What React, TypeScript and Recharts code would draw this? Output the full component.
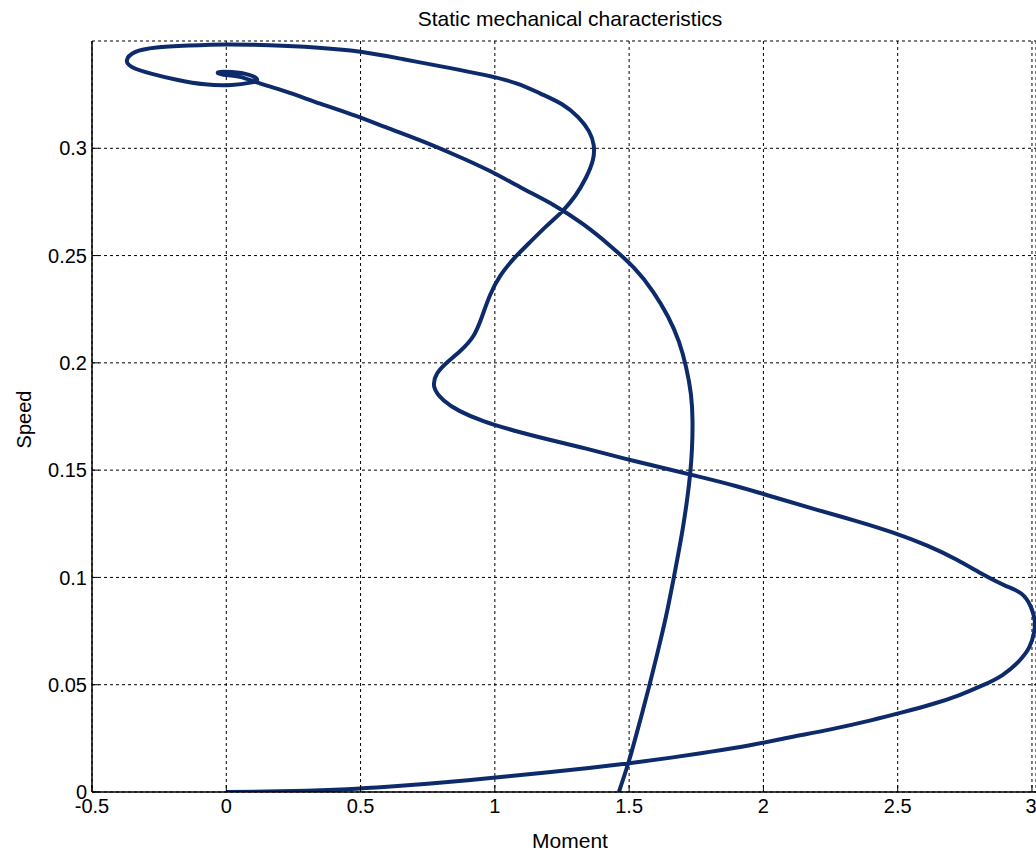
import { CartesianGrid, Label, Line, LineChart, XAxis, YAxis } from "recharts";

// Trayectoria momento / velocidad (en orden de recorrido)
const MOMENT = [
  0, 0.15, 0.3, 0.45, 0.6, 0.75, 0.9, 1.05, 1.2, 1.35, 1.5, 1.65, 1.8, 1.95, 2.1, 2.25, 2.4, 2.52,
  2.63, 2.73, 2.82, 2.89, 2.95, 2.99, 3.008, 3.01, 2.995, 2.96, 2.9, 2.82, 2.72, 2.61, 2.48, 2.34, 2.2,
  2.05, 1.9, 1.76, 1.62, 1.48, 1.34, 1.2, 1.07, 0.96, 0.87, 0.81, 0.775, 0.785, 0.825, 0.875, 0.92,
  0.952, 0.982, 1.02, 1.07, 1.125, 1.19, 1.25, 1.3, 1.34, 1.365, 1.368, 1.35, 1.31, 1.25, 1.17, 1.08,
  0.96, 0.82, 0.66, 0.5, 0.33, 0.16, 0.0, -0.14, -0.26, -0.34, -0.37, -0.35, -0.28, -0.18, -0.08,
  0.02, 0.09, 0.115, 0.085, 0.02, -0.03, -0.01, 0.05, 0.12, 0.22, 0.35, 0.48, 0.6, 0.72, 0.85, 0.98,
  1.1, 1.22, 1.33, 1.43, 1.52, 1.59, 1.645, 1.685, 1.712, 1.73, 1.736, 1.734, 1.727, 1.715, 1.7, 1.683,
  1.665, 1.646, 1.625, 1.601, 1.576, 1.55, 1.523, 1.497, 1.462,
];

const SPEED = [
  0, 0.0002, 0.0006, 0.0013, 0.0024, 0.0038, 0.0055, 0.0073, 0.0092, 0.0112, 0.0134, 0.0159, 0.0187,
  0.0218, 0.0255, 0.0292, 0.0334, 0.0372, 0.041, 0.0452, 0.0499, 0.0545, 0.0608, 0.0675, 0.0745, 0.08,
  0.0865, 0.0925, 0.0962, 0.1012, 0.1082, 0.1148, 0.121, 0.1265, 0.1315, 0.137, 0.1425, 0.147, 0.1512,
  0.1555, 0.16, 0.1643, 0.1685, 0.1727, 0.1775, 0.1825, 0.1885, 0.195, 0.2005, 0.206, 0.2125, 0.2215,
  0.2315, 0.2405, 0.2485, 0.2555, 0.2635, 0.2705, 0.278, 0.2865, 0.2945, 0.3015, 0.308, 0.3145, 0.3205,
  0.3255, 0.3303, 0.3342, 0.3377, 0.3415, 0.345, 0.347, 0.348, 0.3484, 0.3479, 0.347, 0.3448, 0.341,
  0.3378, 0.3348, 0.3318, 0.3298, 0.3295, 0.3306, 0.332, 0.3342, 0.3355, 0.3354, 0.3343, 0.3333,
  0.3305, 0.3265, 0.3208, 0.3152, 0.3095, 0.3038, 0.297, 0.2895, 0.2815, 0.2735, 0.2645, 0.2545,
  0.244, 0.233, 0.2215, 0.21, 0.198, 0.1855, 0.173, 0.16, 0.148, 0.1355, 0.123, 0.111, 0.099, 0.087,
  0.075, 0.0625, 0.05, 0.0375, 0.025, 0.0135, 0,
];

const MOMENT_TICKS = [-0.5, 0, 0.5, 1, 1.5, 2, 2.5, 3];
const SPEED_TICKS = [0, 0.05, 0.1, 0.15, 0.2, 0.25, 0.3];

const datos = MOMENT.map((m, i) => ({ moment: m, speed: SPEED[i] }));

const FUENTE = "'Liberation Sans', Arial, sans-serif";
const TICK_STYLE = { fill: "#000", fontSize: 20, fontFamily: FUENTE };

export default function App() {
  return (
    <div style={{ position: "absolute", left: 0, top: 0, background: "#fff" }}>
      <LineChart width={1036} height={850} data={datos} margin={{ top: 41, right: 0, bottom: 0, left: 0 }}>
        <CartesianGrid stroke="#000" strokeDasharray="3 3" strokeWidth={1} />
        <XAxis
          xAxisId="top"
          orientation="top"
          dataKey="moment"
          type="number"
          domain={[-0.5, 3.015]}
          ticks={MOMENT_TICKS}
          allowDataOverflow
          height={0}
          tickSize={-7}
          tick={false}
          axisLine={{ stroke: "#000", strokeWidth: 1.5 }}
          tickLine={{ stroke: "#000" }}
        />
        <XAxis
          dataKey="moment"
          type="number"
          domain={[-0.5, 3.015]}
          ticks={MOMENT_TICKS}
          allowDataOverflow
          height={58}
          tickSize={-7}
          tickMargin={14}
          tick={TICK_STYLE}
          axisLine={{ stroke: "#000", strokeWidth: 1.5 }}
          tickLine={{ stroke: "#000" }}
        >
          <Label
            content={({ viewBox }: any) => {
              const cx = viewBox.x + viewBox.width / 2 + 6;
              return (
                <g fontFamily={FUENTE} fill="#000" textAnchor="middle">
                  <text x={cx} y={viewBox.y + 48} dominantBaseline="central" fontSize={21}>
                    Moment
                  </text>
                  <text x={cx} y={18} dominantBaseline="central" fontSize={21}>
                    Static mechanical characteristics
                  </text>
                </g>
              );
            }}
          />
        </XAxis>
        <YAxis
          dataKey="speed"
          type="number"
          domain={[0, 0.35]}
          ticks={SPEED_TICKS}
          allowDataOverflow
          width={92}
          tickSize={-7}
          tickMargin={12}
          tick={TICK_STYLE}
          axisLine={{ stroke: "#000", strokeWidth: 1.5 }}
          tickLine={{ stroke: "#000" }}
        >
          <Label
            content={({ viewBox }: any) => {
              const cy = viewBox.y + viewBox.height / 2 + 3;
              return (
                <text
                  x={24}
                  y={cy}
                  transform={`rotate(-90, 24, ${cy})`}
                  textAnchor="middle"
                  dominantBaseline="central"
                  fontSize={20}
                  fontFamily={FUENTE}
                  fill="#000"
                >
                  Speed
                </text>
              );
            }}
          />
        </YAxis>
        <Line
          dataKey="speed"
          type="natural"
          stroke="#0d2b6b"
          strokeWidth={4}
          dot={false}
          isAnimationActive={false}
        />
      </LineChart>
    </div>
  );
}
